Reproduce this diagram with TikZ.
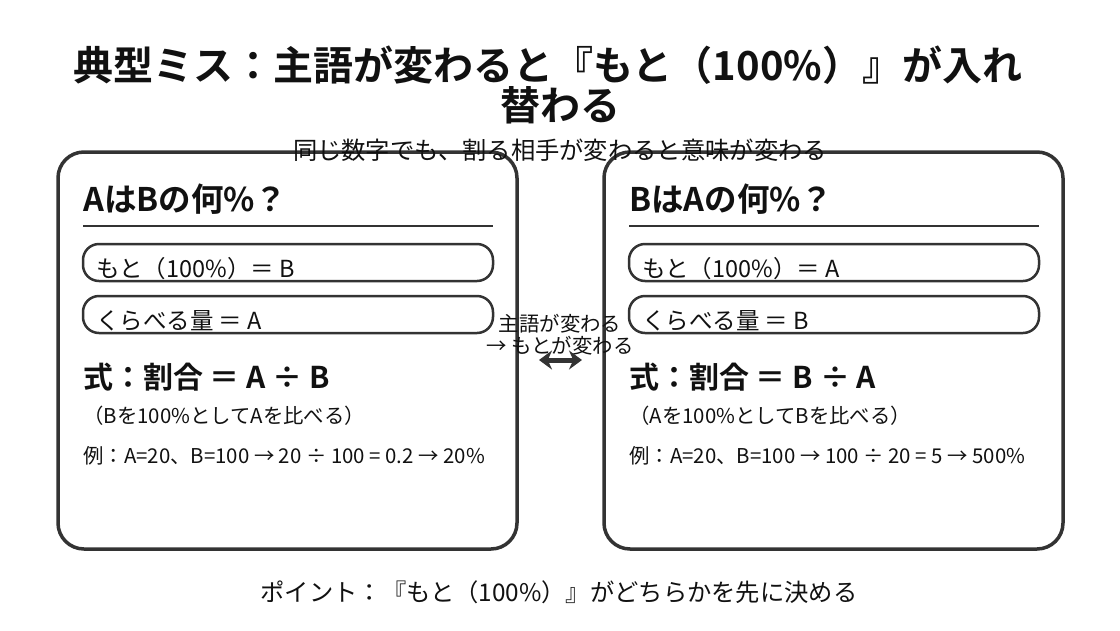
\documentclass[tikz,border=0pt]{standalone}
\usepackage{fontspec}
\setmainfont{Noto Sans CJK JP}
\newfontfamily\jpbold{Noto Sans CJK JP Bold}
\usetikzlibrary{arrows.meta}
\definecolor{ink}{HTML}{111111}
\definecolor{edge}{HTML}{333333}
\tikzset{
  panel/.style={draw=edge, line width=3.5pt, rounded corners=26pt, minimum width=459pt, minimum height=397pt, inner sep=0pt},
  pill/.style={draw=edge, line width=2.5pt, rounded corners=16pt, minimum width=410pt, minimum height=37pt, inner sep=0pt},
  txt/.style={text=ink, inner sep=0pt, anchor=west},
  ctxt/.style={text=ink, inner sep=0pt, anchor=center},
}
\begin{document}
\begin{tikzpicture}[x=1pt,y=-1pt]
\useasboundingbox (0,0) rectangle (1120,630);
\fill[white] (0,0) rectangle (1120,630);
% panels
\node[panel] (L) at (287.5,350.5) {};
\node[panel] (R) at (833.5,350.5) {};
% title
\node[ctxt, font=\jpbold\fontsize{40}{46}\selectfont] (t1) at (548,65) {典型ミス：主語が変わると『もと（100\%）』が入れ};
\node[ctxt, font=\jpbold\fontsize{40}{46}\selectfont] (t2) at (560,105) {替わる};
\node[ctxt, font=\fontsize{24.3}{28}\selectfont] (sub) at (560,150) {同じ数字でも、割る相手が変わると意味が変わる};
% left panel
\node[txt, font=\jpbold\fontsize{32.5}{38}\selectfont] (lh) at (83,199) {AはBの何\%？};
\draw[edge, line width=2.5pt] (83,226) coordinate (lu1) -- (493,226) coordinate (lu2);
\node[pill] (lp1) at (288,262.5) {};
\node[pill] (lp2) at (288,314.5) {};
\node[txt, font=\fontsize{23.5}{28}\selectfont] (lp1t) at (96,269) {もと（100\%）＝ B};
\node[txt, font=\fontsize{23.5}{28}\selectfont] (lp2t) at (96,321) {くらべる量 ＝ A};
\node[txt, font=\jpbold\fontsize{30}{36}\selectfont] (lf) at (83,377) {式：割合 ＝ A ÷ B};
\node[txt, font=\fontsize{20.4}{24}\selectfont] (ln) at (83,416) {（Bを100\%としてAを比べる）};
\node[txt, font=\fontsize{20.4}{24}\selectfont] (le) at (83,456) {例：A=20、B=100 → 20 ÷ 100 = 0.2 → 20\%};
% right panel
\node[txt, font=\jpbold\fontsize{32.5}{38}\selectfont] (rh) at (629,199) {BはAの何\%？};
\draw[edge, line width=2.5pt] (629,226) coordinate (ru1) -- (1039,226) coordinate (ru2);
\node[pill] (rp1) at (834,262.5) {};
\node[pill] (rp2) at (834,314.5) {};
\node[txt, font=\fontsize{23.5}{28}\selectfont] (rp1t) at (642,269) {もと（100\%）＝ A};
\node[txt, font=\fontsize{23.5}{28}\selectfont] (rp2t) at (642,321) {くらべる量 ＝ B};
\node[txt, font=\jpbold\fontsize{30}{36}\selectfont] (rf) at (629,377) {式：割合 ＝ B ÷ A};
\node[txt, font=\fontsize{20.4}{24}\selectfont] (rn) at (629,416) {（Aを100\%としてBを比べる）};
\node[txt, font=\fontsize{20.4}{24}\selectfont] (re) at (629,456) {例：A=20、B=100 → 100 ÷ 20 = 5 → 500\%};
% middle
\node[ctxt, font=\fontsize{20.4}{24}\selectfont] (m1) at (560,324) {主語が変わる};
\node[ctxt, font=\fontsize{20.4}{24}\selectfont] (m2) at (560,346) {→ もとが変わる};
\coordinate (a1) at (539,360);
\coordinate (a2) at (582,360);
\draw[edge, line width=5pt, {Stealth[length=13pt,width=19pt]}-{Stealth[length=13pt,width=19pt]}] (a1) -- (a2);
% bottom
\node[ctxt, font=\fontsize{24.3}{28}\selectfont] (pt) at (559,592) {ポイント：『もと（100\%）』がどちらかを先に決める};
\end{tikzpicture}
\end{document}
